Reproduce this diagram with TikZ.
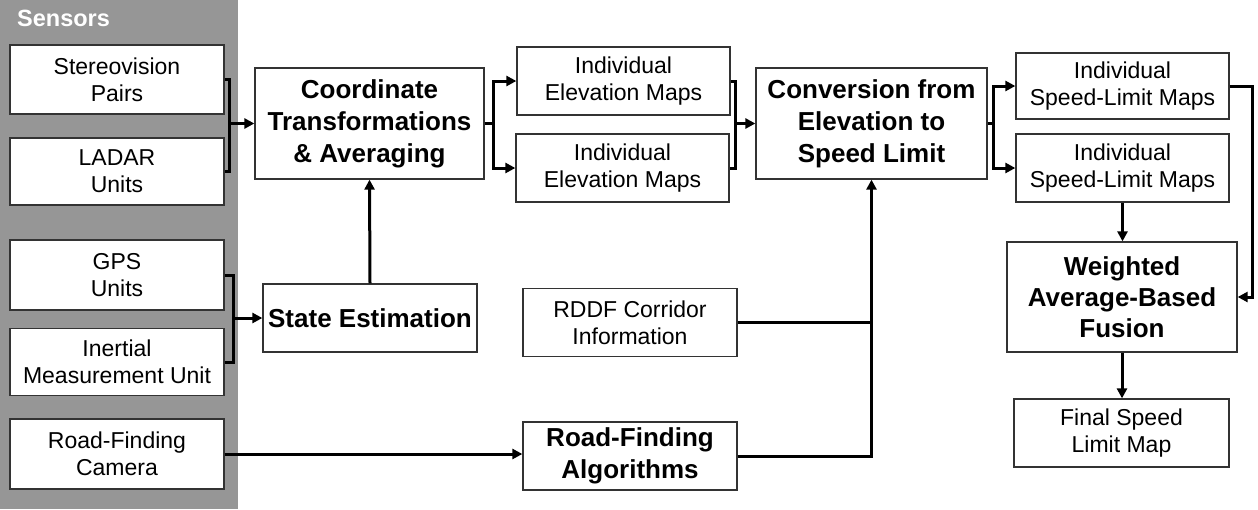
\documentclass[tikz,border=0pt]{standalone}
\usepackage{fontspec}
\setmainfont{Liberation Sans}
\usetikzlibrary{arrows.meta}
\definecolor{sensgray}{RGB}{150,150,150}
\begin{document}
\begin{tikzpicture}[x=1pt,y=-1pt,
  box/.style={draw=black!80, line width=1.3pt, fill=white, inner sep=0pt, align=center,
    font=\fontsize{23}{27}\selectfont},
  bbox/.style={box, font=\fontsize{26}{32}\selectfont\bfseries},
  conn/.style={line width=3pt, line join=miter, draw=black},
  arr/.style={conn, -{Triangle[length=10pt,width=10pt]}},
]
\useasboundingbox (0,0) rectangle (1258,509);
\fill[sensgray] (0,0) rectangle (238,509);
\node[anchor=base west, text=white, font=\fontsize{23.5}{27}\selectfont\bfseries, inner sep=0pt] (sens) at (17,26) {Sensors};

\node[box, minimum width=214pt, minimum height=69pt] (stereo) at (117,79.5) {Stereovision\\Pairs};
\node[box, minimum width=214pt, minimum height=67pt] (ladar) at (117,171.5) {LADAR\\Units};
\node[box, minimum width=214pt, minimum height=70pt] (gps) at (117,275) {GPS\\Units};
\node[box, minimum width=214pt, minimum height=67pt] (imu) at (117,362) {Inertial\\Measurement Unit};
\node[box, minimum width=214pt, minimum height=70pt] (cam) at (117,454) {Road-Finding\\Camera};

\node[bbox, minimum width=229pt, minimum height=111pt] (coord) at (369.5,123.5) {Coordinate\\Transformations\\\& Averaging};
\node[bbox, minimum width=214pt, minimum height=68pt] (state) at (370,318) {State Estimation};

\node[box, minimum width=213pt, minimum height=68pt] (elev1) at (623.5,81) {Individual\\Elevation Maps};
\node[box, minimum width=213pt, minimum height=68pt] (elev2) at (622.5,168) {Individual\\Elevation Maps};
\node[box, minimum width=214pt, minimum height=68pt] (rddf) at (630,322.5) {RDDF Corridor\\Information};
\node[bbox, minimum width=214pt, minimum height=68pt] (algo) at (630,456) {Road-Finding\\Algorithms};

\node[bbox, minimum width=231pt, minimum height=111pt] (conv) at (871.5,123.5) {Conversion from\\Elevation to\\Speed Limit};

\node[box, minimum width=213pt, minimum height=66pt] (sl1) at (1122.5,86) {Individual\\Speed-Limit Maps};
\node[box, minimum width=213pt, minimum height=68pt] (sl2) at (1122.5,168) {Individual\\Speed-Limit Maps};
\node[bbox, minimum width=230pt, minimum height=110pt, font=\fontsize{26}{31}\selectfont\bfseries] (fuse) at (1122,297) {Weighted\\Average-Based\\Fusion};
\node[box, minimum width=215pt, minimum height=68pt] (final) at (1121.5,433) {Final Speed\\Limit Map};

% sensors -> coordinate transformations
\coordinate (b1) at (229,123.5);
\draw[conn] (stereo.east) -| (b1) |- (ladar.east);
\draw[arr] (b1) -- (coord.west);
% gps/imu -> state estimation
\coordinate (b2) at (233,318);
\draw[conn] (gps.east) -| (b2) |- (imu.east);
\draw[arr] (b2) -- (state.west);
% state -> coord
\draw[arr] (state.north) -- (coord.south);
% coord -> elevation maps
\coordinate (b3) at (493,123.5);
\draw[conn] (coord.east) -- (b3);
\draw[arr] (b3) |- (elev1.west);
\draw[arr] (b3) |- (elev2.west);
% elevation maps -> conversion
\coordinate (b4) at (735,123.5);
\draw[conn] (elev1.east) -| (b4) |- (elev2.east);
\draw[arr] (b4) -- (conv.west);
% conversion -> speed limit maps
\coordinate (b5) at (993,123.5);
\draw[conn] (conv.east) -- (b5);
\draw[arr] (b5) |- (sl1.west);
\draw[arr] (b5) |- (sl2.west);
% speed limit maps -> fusion
\draw[arr] (sl2.south) -- (sl2.south |- fuse.north);
\coordinate (b6) at (1252,86);
\draw[arr] (sl1.east) -- (b6) |- (fuse.east);
% fusion -> final
\draw[arr] (fuse.south) -- (fuse.south |- final.north);
% rddf & road finding -> conversion
\coordinate (b7) at (871.5,322.5);
\draw[conn] (rddf.east) -- (b7);
\draw[arr] (algo.east) -| (conv.south);
% camera -> road finding
\draw[arr] (cam.east) -- (cam.east -| algo.west);
\end{tikzpicture}
\end{document}
